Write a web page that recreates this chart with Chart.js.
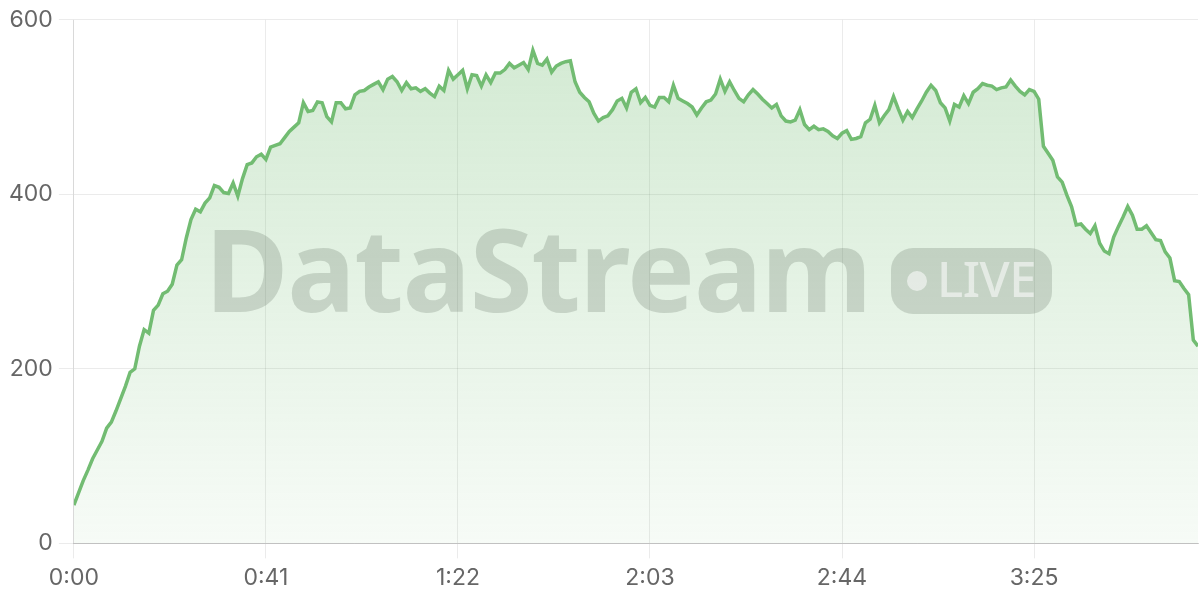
<!DOCTYPE html>
<html>
<head>
<meta charset="utf-8">
<script src="https://cdn.jsdelivr.net/npm/chart.js@4/dist/chart.umd.min.js"></script>
<style>
    body { margin: 0; background: #fff; }
    #wrap { position: relative; width: 1200px; height: 600px; }
    #wm { position: absolute; left: 0; top: 0; pointer-events: none; }
    #wmText {
        position: absolute; left: 205px; top: 211px;
        font-family: "Noto Sans", sans-serif; font-weight: 700; font-size: 114px;
        letter-spacing: -1.2px; line-height: 1;
        color: rgba(70, 85, 70, 0.2);
        white-space: nowrap;
    }
    #wmBadge {
        position: absolute; left: 891px; top: 248px; width: 161px; height: 66px;
        border-radius: 22px; background: rgba(70, 85, 70, 0.2);
    }
    #wmDot {
        position: absolute; left: 16px; top: 23px; width: 20px; height: 20px;
        border-radius: 50%; background: rgba(255, 255, 255, 0.55);
    }
    #wmLive {
        position: absolute; left: 46px; top: 6px;
        font-family: "Noto Sans", sans-serif; font-weight: 500; font-size: 49px;
        line-height: 1; color: rgba(255, 255, 255, 0.55); letter-spacing: -0.5px;
    }
</style>
</head>
<body>
<div id="wrap">
    <canvas id="stream" width="1200" height="600"></canvas>
    <div id="wm">
        <div id="wmText">DataStream</div>
        <div id="wmBadge"><div id="wmDot"></div><div id="wmLive">LIVE</div></div>
    </div>
</div>
<script>
// one value per second, 0:00 .. 4:00
var values = [
    44, 58, 72, 84, 97, 107, 117, 132, 139, 152,
    166, 180, 196, 200, 226, 245, 241, 267, 273, 286,
    289, 297, 319, 325, 350, 371, 383, 380, 390, 396,
    410, 408, 402, 401, 413, 398, 418, 434, 436, 443,
    446, 440, 454, 456, 458, 465, 472, 477, 482, 505,
    495, 496, 506, 505, 489, 483, 505, 505, 498, 499,
    514, 518, 519, 523, 526, 529, 520, 532, 535, 529,
    519, 528, 521, 522, 518, 521, 516, 512, 524, 519,
    542, 532, 537, 542, 521, 537, 536, 524, 537, 528,
    539, 539, 543, 550, 545, 548, 551, 543, 565, 550,
    548, 555, 540, 547, 550, 552, 553, 529, 517, 511,
    506, 493, 484, 488, 490, 497, 507, 510, 499, 517,
    521, 505, 511, 502, 500, 511, 511, 506, 525, 510,
    507, 504, 500, 491, 499, 506, 508, 515, 532, 518,
    529, 519, 510, 506, 514, 520, 515, 509, 504, 499,
    503, 490, 484, 483, 485, 497, 480, 474, 478, 474,
    475, 472, 467, 464, 470, 473, 463, 464, 466, 482,
    486, 502, 482, 490, 497, 512, 498, 485, 495, 488,
    498, 507, 517, 525, 519, 505, 499, 484, 503, 500,
    513, 504, 517, 521, 527, 525, 524, 520, 522, 523,
    531, 524, 518, 514, 520, 518, 509, 455, 447, 439,
    420, 414, 399, 386, 365, 366, 360, 355, 364, 344,
    335, 332, 351, 363, 374, 386, 376, 360, 360, 364,
    356, 348, 347, 334, 327, 301, 300, 292, 285, 233,
    226
];
var tickSeconds = [0, 41, 82, 123, 164, 205];
var tickLabels = ['0:00', '0:41', '1:22', '2:03', '2:44', '3:25'];
var yTicks = [0, 200, 400, 600];

var points = values.map((v, i) => ({x: i, y: v}));

function fillGradient(context) {
    const area = context.chart.chartArea;
    if (!area) return 'rgba(114,188,114,0.2)';
    const g = context.chart.ctx.createLinearGradient(0, area.top, 0, area.bottom);
    g.addColorStop(0, 'rgba(114,188,114,0.32)');
    g.addColorStop(1, 'rgba(114,188,114,0.06)');
    return g;
}

const tickFont = {family: 'Inter, "Noto Sans", sans-serif', size: 23};

const config = {
    type: 'line',
    data: {
        datasets: [{
            label: 'Stream',
            data: points,
            borderColor: 'rgb(114,188,114)',
            borderWidth: 3.5,
            backgroundColor: fillGradient,
            fill: 'origin',
            pointRadius: 0,
            tension: 0
        }]
    },
    options: {
        responsive: false,
        animation: false,
        devicePixelRatio: 1,
        layout: {padding: {left: 3, right: 2, top: 8, bottom: 2}},
        plugins: {
            legend: {display: false},
            tooltip: {enabled: false}
        },
        scales: {
            x: {
                type: 'linear',
                min: 0,
                max: values.length - 1,
                afterBuildTicks: function (axis) {
                    axis.ticks = tickSeconds.map(v => ({value: v}));
                },
                ticks: {
                    font: tickFont,
                    color: '#666',
                    padding: 6,
                    maxRotation: 0,
                    callback: function (value) {
                        return tickLabels[tickSeconds.indexOf(value)];
                    }
                },
                grid: {color: 'rgba(0,0,0,0.08)', tickLength: 15},
                border: {color: 'rgba(0,0,0,0.18)'}
            },
            y: {
                min: 0,
                max: 600,
                afterBuildTicks: function (axis) {
                    axis.ticks = yTicks.map(v => ({value: v}));
                },
                ticks: {font: tickFont, color: '#666', padding: 6},
                grid: {color: 'rgba(0,0,0,0.08)', tickLength: 15},
                border: {color: 'rgba(0,0,0,0.08)'}
            }
        }
    }
};
const graphic = new Chart(document.getElementById('stream'), config);
</script>
</body>
</html>
